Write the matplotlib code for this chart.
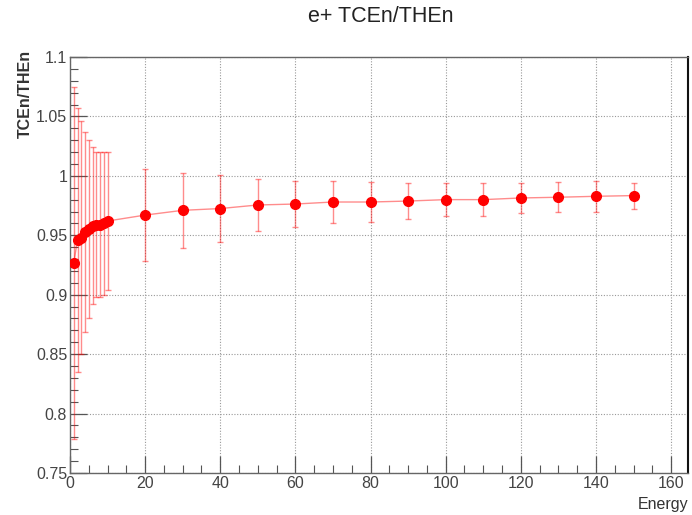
import matplotlib
matplotlib.use("Agg")
import matplotlib.pyplot as plt
from matplotlib.ticker import MultipleLocator

plt.rcParams['font.family'] = ['Liberation Sans Narrow', 'Liberation Sans', 'DejaVu Sans']

energy = [1, 2, 3, 4, 5, 6, 7, 8, 9, 10,
          20, 30, 40, 50, 60, 70, 80, 90, 100, 110, 120, 130, 140, 150]
ratio = [0.927, 0.946, 0.948, 0.953, 0.955, 0.958, 0.959, 0.959, 0.960, 0.962,
         0.967, 0.971, 0.9725, 0.9755, 0.9763, 0.978, 0.978, 0.9788, 0.980, 0.980,
         0.9814, 0.982, 0.9828, 0.9834]
ratio_err = [0.148, 0.111, 0.098, 0.084, 0.075, 0.066, 0.061, 0.061, 0.060, 0.058,
             0.039, 0.0315, 0.028, 0.022, 0.0193, 0.0175, 0.0165, 0.0153, 0.0136, 0.0136,
             0.0128, 0.0128, 0.013, 0.011]

fig = plt.figure(figsize=(6.92, 5.15), dpi=100)
ax = fig.add_axes([70/692, 1 - 473/515, 618/692, 416/515])

ax.errorbar(energy, ratio, yerr=ratio_err, fmt='none', ecolor='#ff0000', alpha=0.45,
            elinewidth=1.0, capsize=2.0, capthick=1.0, zorder=3)
ax.plot(energy, ratio, '-', color='#ff0000', lw=1.0, alpha=0.45, zorder=4)
ax.plot(energy, ratio, 'o', color='#ff0000', ms=7, mec='#ff0000', zorder=5)

ax.set_xlim(0, 164.5)
ax.set_ylim(0.75, 1.1)
ax.xaxis.set_major_locator(MultipleLocator(20))
ax.xaxis.set_minor_locator(MultipleLocator(5))
ax.yaxis.set_major_locator(MultipleLocator(0.05))
ax.yaxis.set_minor_locator(MultipleLocator(0.01))
ax.yaxis.set_major_formatter(plt.FuncFormatter(lambda v, p: f"{v:g}"))

ax.grid(True, which='major', color='#999999', ls=(0, (1, 1.5)), lw=0.8)
ax.tick_params(which='major', direction='in', length=12, width=0.9, color='#555555',
               labelsize=11.5, labelcolor='#444444', pad=2)
ax.tick_params(which='minor', direction='in', length=6, width=0.8, color='#555555')
for s in ax.spines.values():
    s.set_color('#666666')
    s.set_linewidth(1.0)
ax.spines['right'].set_color('#111111')
ax.spines['right'].set_linewidth(1.5)

fig.text(381/692, 1 - 17/515, 'e+ TCEn/THEn', ha='center', va='center', fontsize=15.5, color='#222222')
fig.text(25/692, 1 - 50/515, 'TCEn/THEn', rotation=90, ha='center', va='top', fontsize=11.5,
         fontweight='bold', color='#333333')
fig.text(688/692, 1 - 504/515, 'Energy', ha='right', va='center', fontsize=11.5, color='#333333')

fig.savefig('out.png', dpi=100)
